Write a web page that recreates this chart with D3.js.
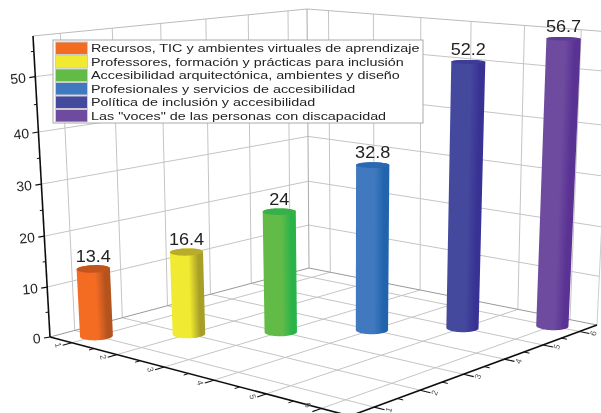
<!DOCTYPE html>
<html>
<head>
<meta charset="utf-8">
<script src="https://cdn.jsdelivr.net/npm/d3@7"></script>
<style>
  html, body { margin: 0; padding: 0; background: #fff; }
  svg { display: block; }
  text { font-family: "Liberation Sans", Arial, sans-serif; fill: #222; }
</style>
</head>
<body>
<div class="chart"></div>
<script>
let width = 601
let height = 413

let categories = [
    'Recursos, TIC y ambientes virtuales de aprendizaje',
    'Professores, formación y prácticas para inclusión',
    'Accesibilidad arquitectónica, ambientes y diseño',
    'Profesionales y servicios de accesibilidad',
    'Política de inclusión y accesibilidad',
    'Las "voces" de las personas con discapacidad'
]
let positions = [1, 2, 3, 4, 5, 6]
let values = [13.4, 16.4, 24, 32.8, 52.2, 56.7]
let valueLabels = ['13.4', '16.4', '24', '32.8', '52.2', '56.7']
let zTicks = [0, 10, 20, 30, 40, 50]
let zMinorTicks = [5, 15, 25, 35, 45, 55]
let xMinorTicks = [1.5, 2.5, 3.5, 4.5, 5.5]

let sideColors = ['#f36c24', '#f0ea30', '#62bb46', '#4079bf', '#454a9e', '#6e4b9f']
let shadeColors = ['#b4521f', '#a89f28', '#2bb34a', '#2264ad', '#393394', '#5a3294']
let capColors = ['#c2541f', '#b9ac2a', '#37b04a', '#2a68b0', '#3c3a98', '#5f3a98']

// unit square -> quad, the usual closed form
function quadMap(p) {
    let [x0, y0] = p[0], [x1, y1] = p[1], [x2, y2] = p[2], [x3, y3] = p[3]
    let dx1 = x1 - x2, dx2 = x3 - x2, sx = x0 - x1 + x2 - x3
    let dy1 = y1 - y2, dy2 = y3 - y2, sy = y0 - y1 + y2 - y3
    let den = dx1 * dy2 - dx2 * dy1
    let g = (sx * dy2 - dx2 * sy) / den
    let h = (dx1 * sy - sx * dy1) / den
    let a = x1 - x0 + g * x1, b = x3 - x0 + h * x3
    let d = y1 - y0 + g * y1, e = y3 - y0 + h * y3
    return (u, v) => {
        let w = g * u + h * v + 1
        return [(a * u + b * v + x0) / w, (d * u + e * v + y0) / w]
    }
}

// floor and ceiling of the box: left, front, right, back corner
let floorMap = quadMap([[50, 337], [350, 416], [597, 325], [309, 268]])
let ceilMap = quadMap([[33, 36], [353, 72], [611, 32], [307, 9]])

let xScale = d3.scaleLinear().domain([0.5, 6.5]).range([0, 1])
let yScale = d3.scaleLinear().domain([0.5, 6.5]).range([0, 1])
// heights are a little stretched towards the top of the box
let zScale = d3.scaleLinear()
    .domain([0, 10, 20, 30, 40, 50, 58])
    .range([0, 0.166, 0.335, 0.508, 0.681, 0.865, 1])

function project(x, y, z) {
    let a = floorMap(xScale(x), yScale(y))
    let b = ceilMap(xScale(x), yScale(y))
    let t = zScale(z)
    return [a[0] + (b[0] - a[0]) * t, a[1] + (b[1] - a[1]) * t]
}

let svg = d3.select('div.chart')
    .append('svg')
    .attr('width', width)
    .attr('height', height)

let defs = svg.append('defs')
defs.append('filter').attr('id', 'soft')
    .append('feGaussianBlur').attr('stdDeviation', 0.45)

// the shading follows the lean of each cylinder
positions.forEach(function(p, i) {
    let a = project(p, p, 0)
    let b = project(p, p, values[i])
    let dx = b[0] - a[0], dy = b[1] - a[1]
    let len = Math.hypot(dx, dy)
    let nx = -dy / len, ny = dx / len
    let half = 16.5 * nx
    let grad = defs.append('linearGradient')
        .attr('id', 'bar' + i)
        .attr('gradientUnits', 'userSpaceOnUse')
        .attr('x1', a[0] - half * nx).attr('y1', a[1] - half * ny)
        .attr('x2', a[0] + half * nx).attr('y2', a[1] + half * ny)
    grad.append('stop').attr('offset', '0%').attr('stop-color', sideColors[i])
    grad.append('stop').attr('offset', '55%').attr('stop-color', sideColors[i])
    grad.append('stop').attr('offset', '85%').attr('stop-color', shadeColors[i])
    grad.append('stop').attr('offset', '100%').attr('stop-color', shadeColors[i])
})

let g = svg.append('g').attr('filter', 'url(#soft)')

function seg(parent, a, b, color, w) {
    parent.append('line')
        .attr('x1', a[0]).attr('y1', a[1])
        .attr('x2', b[0]).attr('y2', b[1])
        .style('stroke', color)
        .style('stroke-width', w)
}

let grid = g.append('g')
let gridColor = '#c4c4c4'
positions.forEach(function(p) {
    // floor
    seg(grid, project(p, 0.5, 0), project(p, 6.5, 0), gridColor, 1)
    seg(grid, project(0.5, p, 0), project(6.5, p, 0), gridColor, 1)
    // walls
    seg(grid, project(p, 6.5, 0), project(p, 6.5, 58), gridColor, 1)
    seg(grid, project(0.5, p, 0), project(0.5, p, 58), gridColor, 1)
})
zTicks.slice(1).forEach(function(z) {
    seg(grid, project(0.5, 0.5, z), project(0.5, 6.5, z), gridColor, 1)
    seg(grid, project(0.5, 6.5, z), project(6.5, 6.5, z), gridColor, 1)
})
// box edges
seg(grid, project(0.5, 0.5, 58), project(0.5, 6.5, 58), '#bbb', 1)
seg(grid, project(0.5, 6.5, 58), project(6.5, 6.5, 58), '#bbb', 1)
seg(grid, project(0.5, 6.5, 0), project(0.5, 6.5, 58), '#aaa', 1)
seg(grid, project(0.5, 0.5, 0), project(0.5, 6.5, 0), '#999', 1)
seg(grid, project(0.5, 6.5, 0), project(6.5, 6.5, 0), '#999', 1)
seg(grid, project(6.5, 6.5, 0), project(6.5, 6.5, 58), '#ccc', 1)

// axes
let axes = g.append('g')
seg(axes, project(0.5, 0.5, 0), project(0.5, 0.5, 58), '#111', 1.6)
seg(axes, project(0.5, 0.5, 0), project(6.5, 0.5, 0), '#111', 1.6)
seg(axes, project(6.5, 0.5, 0), project(6.5, 6.5, 0), '#111', 1.6)

zTicks.forEach(function(z) {
    let a = project(0.5, 0.5, z)
    seg(axes, a, [a[0] - 6, a[1] + 1], '#111', 1.2)
    axes.append('text')
        .attr('transform', `translate(${a[0] - 9},${a[1] + 6}) rotate(-5)`)
        .attr('text-anchor', 'end')
        .style('font-size', '14px')
        .text(z)
})
zMinorTicks.forEach(function(z) {
    let a = project(0.5, 0.5, z)
    seg(axes, a, [a[0] - 3, a[1] + 0.5], '#111', 1)
})

positions.forEach(function(p) {
    // x axis runs along the left-front edge, y along the front-right edge
    seg(axes, project(p, 0.5, 0), project(p, 0.32, 0), '#111', 1.1)
    seg(axes, project(6.5, p, 0), project(6.68, p, 0), '#111', 1.1)
    let lx = project(p, 0.27, 0)
    // the last label would run off the bottom of the picture
    axes.append('text')
        .attr('transform', `translate(${lx[0] - 2},${Math.min(lx[1] - 1, 405)}) rotate(75)`)
        .attr('text-anchor', 'middle')
        .attr('dy', '0.35em')
        .style('font-size', '8.5px')
        .style('fill', '#555')
        .text(p)
    let ly = project(6.75, p, 0)
    axes.append('text')
        .attr('transform', `translate(${ly[0]},${ly[1] - 1}) rotate(-70)`)
        .attr('text-anchor', 'middle')
        .attr('dy', '0.35em')
        .style('font-size', '8.5px')
        .style('fill', '#555')
        .text(p)
})
xMinorTicks.forEach(function(p) {
    seg(axes, project(p, 0.5, 0), project(p, 0.4, 0), '#111', 1)
    seg(axes, project(6.5, p, 0), project(6.6, p, 0), '#111', 1)
})

// cylinders, circles in data units pushed through the projection
let radius = 0.25
let angles = d3.range(0, 360, 6).map(d => d * Math.PI / 180)
function ring(p, z) {
    return angles.map(a => project(p + radius * Math.cos(a), p + radius * Math.sin(a), z))
}
let pathLine = d3.line().curve(d3.curveLinearClosed)

let bars = g.append('g')
positions.forEach(function(p, i) {
    let bottom = ring(p, 0)
    let top = ring(p, values[i])
    bars.append('path')
        .attr('d', pathLine(d3.polygonHull(bottom.concat(top))))
        .style('fill', `url(#bar${i})`)
    bars.append('path')
        .attr('d', pathLine(top))
        .style('fill', capColors[i])
    let c = project(p, p, values[i])
    bars.append('text')
        .attr('transform', `translate(${c[0]},${c[1] - 7}) scale(1.13,1)`)
        .attr('text-anchor', 'middle')
        .style('font-size', '16px')
        .text(valueLabels[i])
})

// legend
let legend = g.append('g').attr('transform', 'translate(53,40)')
legend.append('rect')
    .attr('width', 370)
    .attr('height', 83)
    .style('fill', '#fff')
    .style('stroke', '#aaa')
    .style('stroke-width', 1)
categories.forEach(function(name, i) {
    legend.append('rect')
        .attr('x', 2.5)
        .attr('y', 2 + i * 13.5)
        .attr('width', 32)
        .attr('height', 12.5)
        .style('fill', sideColors[i])
        .style('stroke', '#ccc')
    // the source text is wider than the font
    legend.append('text')
        .attr('transform', `translate(38,${12 + i * 13.5}) scale(1.25,1)`)
        .style('font-size', '11.5px')
        .text(name)
})
</script>
</body>
</html>
